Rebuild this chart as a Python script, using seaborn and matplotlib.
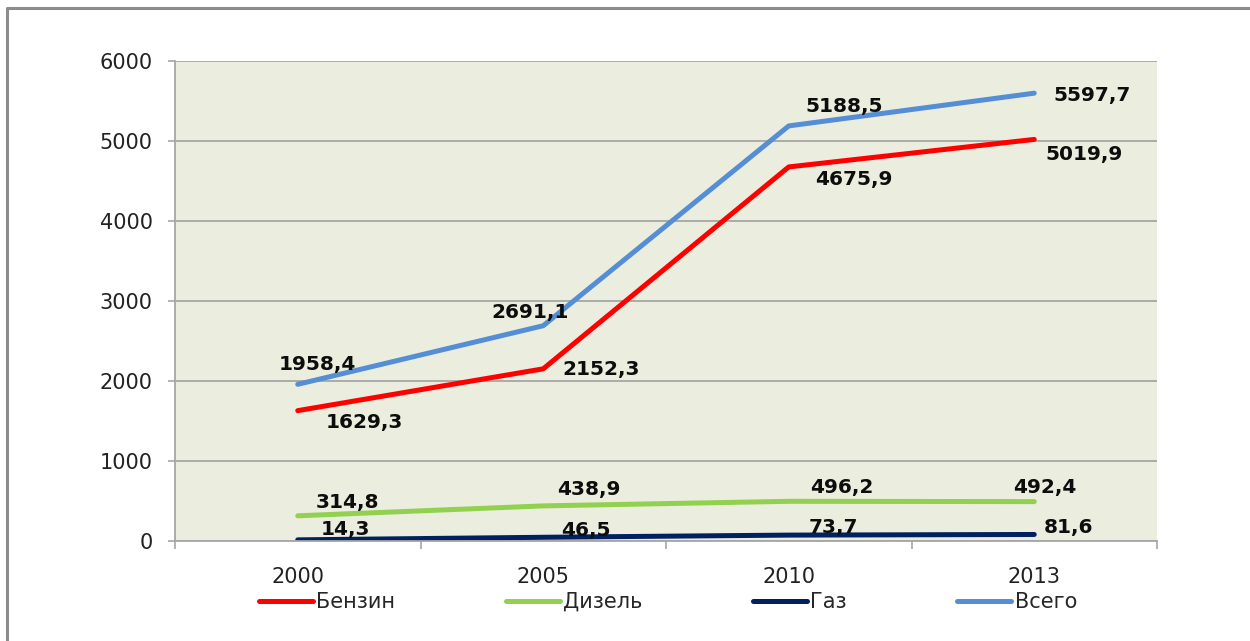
import matplotlib

matplotlib.use("Agg")
import matplotlib.pyplot as plt
import numpy as np
import pandas as pd
import seaborn as sns
from matplotlib.lines import Line2D
from matplotlib.ticker import FixedLocator, MultipleLocator

# データ
years = ["2000", "2005", "2010", "2013"]
series_names = ["Бензин", "Дизель", "Газ", "Всего"]
benzin = [1629.3, 2152.3, 4675.9, 5019.9]
dizel = [314.8, 438.9, 496.2, 492.4]
gaz = [14.3, 46.5, 73.7, 81.6]
vsego = [1958.4, 2691.1, 5188.5, 5597.7]

colors = {"Бензин": "#FF0000", "Дизель": "#92D050", "Газ": "#002060", "Всего": "#558ED5"}

# ラベルの位置 (ピクセル, 点からのずれ)
label_offsets = {
    "Бензин": [(67, -12), (58, -1), (65, -13), (50, -15)],
    "Дизель": [(50, 13), (46, 16), (53, 14), (11, 14)],
    "Газ": [(48, 10), (43, 7), (45, 8), (34, 7)],
    "Всего": [(20, 20), (-13, 13), (55, 19), (58, -2)],
}

values = {"Бензин": benzin, "Дизель": dizel, "Газ": gaz, "Всего": vsego}
rows = []
for name in series_names:
    for i, v in enumerate(values[name]):
        rows.append({"pos": i, "year": years[i], "series": name, "value": v})
df = pd.DataFrame(rows)

sns.set_style("white")
plt.rcParams["font.family"] = ["DejaVu Sans"]

fig = plt.figure(figsize=(12.5, 6.41), dpi=100)
ax = fig.add_axes([175 / 1250, 1 - 541 / 641, 982 / 1250, 480 / 641])
ax.set_facecolor("#EBEEDF")

sns.lineplot(
    data=df, x="pos", y="value", hue="series", hue_order=series_names,
    palette=colors, linewidth=3.6, sort=False, ax=ax, legend=False,
)
for line in ax.lines:
    line.set_solid_capstyle("round")

# データラベル
px = 0.72
for name in series_names:
    for i, v in enumerate(values[name]):
        dx, dy = label_offsets[name][i]
        ax.annotate(
            f"{v:.1f}".replace(".", ","), (i, v), xytext=(dx * px, dy * px),
            textcoords="offset points", ha="center", va="center",
            fontsize=14.5, fontweight="bold", color="#0D0D0D",
        )

ax.set_xlim(-0.5, 3.5)
ax.set_ylim(0, 6000)
ax.yaxis.set_major_locator(MultipleLocator(1000))
ax.grid(True, axis="y", color="#A6A6A6", linewidth=1.3)
ax.set_axisbelow(True)

ax.set_xticks(range(len(years)))
ax.set_xticklabels(years)
ax.xaxis.set_minor_locator(FixedLocator(np.arange(-0.5, 3.6, 1)))
ax.tick_params(axis="x", which="major", length=0, pad=19, labelsize=15, colors="#222222")
ax.tick_params(axis="x", which="minor", length=6, width=1.2, color="#A6A6A6", direction="out", bottom=True)
ax.tick_params(axis="y", length=5, width=1.2, color="#A6A6A6", pad=11, labelsize=15, labelcolor="#222222", left=True)
ax.set_xlabel("")
ax.set_ylabel("")

for side in ["top", "right"]:
    ax.spines[side].set_visible(False)
for side in ["left", "bottom"]:
    ax.spines[side].set_color("#A6A6A6")
    ax.spines[side].set_linewidth(1.3)

# 凡例
handles = [Line2D([], [], color=colors[n], linewidth=3.6, solid_capstyle="round") for n in series_names]
fig.legend(
    handles, series_names, loc="center", bbox_to_anchor=(668 / 1250, 1 - 602 / 641),
    ncol=4, frameon=False, fontsize=15, handlelength=2.6, handletextpad=0.15,
    columnspacing=5.3,
)

# 外枠
fig.add_artist(Line2D([7 / 1250, 7 / 1250, 1.0], [0.0, 1 - 8 / 641, 1 - 8 / 641],
                      transform=fig.transFigure, color="#8C8C8C", linewidth=2.2))

fig.savefig("out.png", dpi=100)
plt.close(fig)
